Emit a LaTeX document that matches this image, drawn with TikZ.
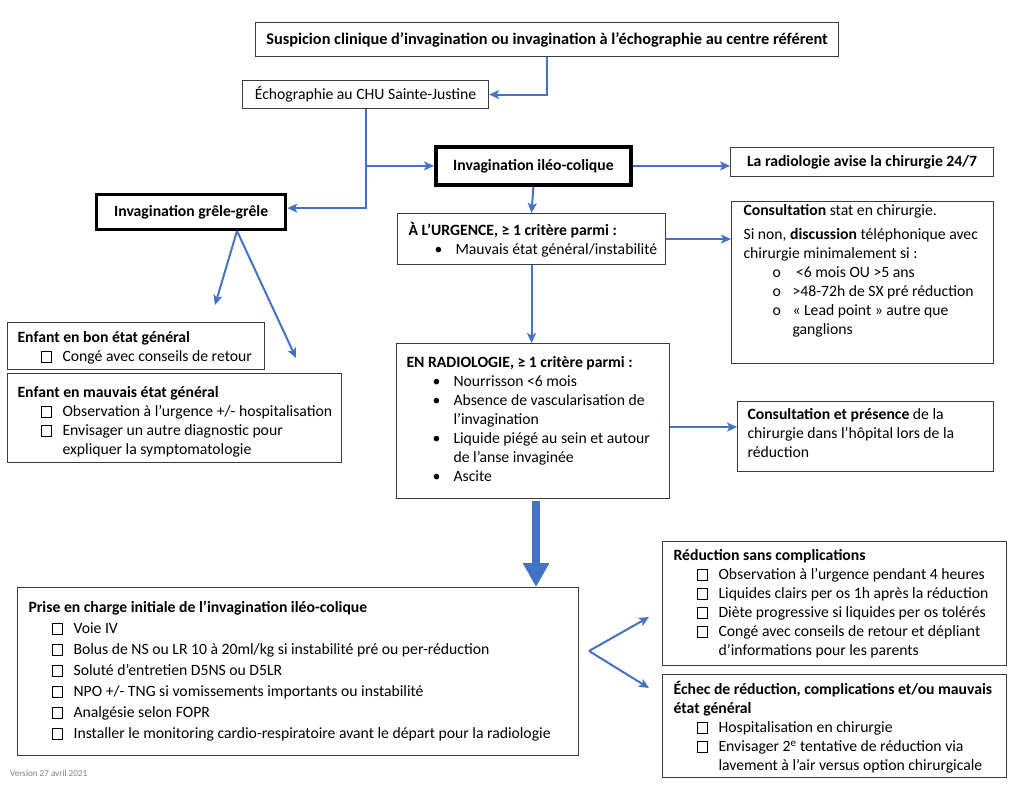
\documentclass[tikz,border=0pt]{standalone}
\usepackage{fontspec}
\setmainfont{Carlito}
\usepackage{xcolor}
\usepackage{tikz}
\usetikzlibrary{arrows.meta,positioning}

\definecolor{flowblue}{HTML}{4472C4}
\definecolor{boxgray}{HTML}{3B3B3B}

% list helpers for the boxes
\newcommand{\cbox}{{\setlength{\fboxsep}{0pt}\setlength{\fboxrule}{0.9pt}\fbox{\rule{0pt}{9.4pt}\hspace{9.4pt}}}}
\newcommand{\chk}[1]{\par\noindent\hangindent=45pt\hangafter=1\hspace*{23pt}\makebox[22pt][l]{\cbox}#1}
\newcommand{\blt}[1]{\par\noindent\hangindent=47pt\hangafter=1\hspace*{26pt}\makebox[21pt][l]{•}#1}
\newcommand{\opt}[1]{\par\noindent\hangindent=49pt\hangafter=1\hspace*{29pt}\makebox[20pt][l]{o}#1}
\newcommand{\btxt}[4]{\parbox[c][#2][t]{#1}{\raggedright\rightskip=-30pt plus 1fil\rule{0pt}{#3}\ignorespaces#4}}

\begin{document}
\begin{tikzpicture}[x=1pt, y=-1pt,
    box/.style={draw=boxgray, line width=1.1pt, anchor=north west, inner xsep=11pt, inner ysep=0pt, font=\fontsize{15.7}{19}\selectfont},
    headbox/.style={draw=boxgray, line width=1.1pt, anchor=north west, inner sep=0pt, font=\bfseries\fontsize{15.7}{19}\selectfont},
    keybox/.style={headbox, draw=black, line width=3.8pt},
    arr/.style={draw=flowblue, line width=2pt, -{Stealth[length=10pt,width=9pt,inset=2.5pt]}},
    bigarr/.style={draw=flowblue, line width=8pt, -{Triangle[length=24pt,width=25pt]}}]

  \useasboundingbox (0,0) rectangle (1024,791);
  \fill[white] (0,0) rectangle (1024,791);

  % top of the chart
  \node[headbox, font=\bfseries\fontsize{16.3}{19}\selectfont, minimum width=583pt, minimum height=34pt] (susp) at (255,22) {Suspicion clinique d’invagination ou invagination à l’échographie au centre référent};
  \node[headbox, font=\fontsize{15.7}{19}\selectfont, minimum width=246pt, minimum height=28pt] (echo) at (242,80) {Échographie au CHU Sainte-Justine};
  \node[keybox, minimum width=195pt, minimum height=38pt] (ileo) at (434,145) {Invagination iléo-colique};
  \node[keybox, line width=3.3pt, minimum width=189pt, minimum height=35pt] (grele) at (95,193) {Invagination grêle-grêle};
  \node[headbox, minimum width=263pt, minimum height=29pt] (avise) at (730,147) {La radiologie avise la chirurgie 24/7};

  % ileo-colique branch
  \node[box] (urg) at (397,213) {\btxt{246pt}{51pt}{22pt}{\textbf{À L’URGENCE, ≥ 1 critère parmi :}\blt{Mauvais état général/instabilité}}};
  \node[box, inner xsep=12pt] (consult) at (731,201) {\btxt{238pt}{162pt}{14pt}{\textbf{Consultation} stat en chirurgie.\par\vspace{5pt}Si non, \textbf{discussion} téléphonique avec\newline chirurgie minimalement si :\opt{\ <6 mois OU >5 ans}\opt{>48-72h de SX pré réduction}\opt{«~Lead point~» autre que\newline ganglions}}};
  \node[box, inner xsep=10pt] (rad) at (396,343) {\btxt{253pt}{155pt}{24pt}{\textbf{EN RADIOLOGIE, ≥ 1 critère parmi :}\blt{Nourrisson <6 mois}\blt{Absence de vascularisation de\newline l’invagination}\blt{Liquide piégé au sein et autour\newline de l’anse invaginée}\blt{Ascite}}};
  \node[box, inner xsep=10pt] (pres) at (737,401) {\btxt{236pt}{70pt}{18pt}{\textbf{Consultation et présence} de la\newline chirurgie dans l’hôpital lors de la\newline réduction}};

  % grele-grele branch
  \node[box, inner xsep=10pt] (bon) at (7,322) {\btxt{237pt}{47pt}{20pt}{\textbf{Enfant en bon état général}\chk{Congé avec conseils de retour}}};
  \node[box, inner xsep=10pt] (mauv) at (7,373) {\btxt{314pt}{89pt}{24pt}{\textbf{Enfant en mauvais état général}\chk{Observation à l’urgence +/- hospitalisation}\chk{Envisager un autre diagnostic pour\newline expliquer la symptomatologie}}};

  % management and outcome
  \node[box, font=\fontsize{15.7}{21}\selectfont] (prise) at (17,587) {\btxt{539pt}{168pt}{25pt}{\textbf{Prise en charge initiale de l’invagination iléo-colique}\chk{Voie IV}\chk{Bolus de NS ou LR 10 à 20ml/kg si instabilité pré ou per-réduction}\chk{Soluté d’entretien D5NS ou D5LR}\chk{NPO +/- TNG si vomissements importants ou instabilité}\chk{Analgésie selon FOPR}\chk{Installer le monitoring cardio-respiratoire avant le départ pour la radiologie}}};
  \node[box] (red) at (662,541) {\btxt{322pt}{124pt}{19pt}{\textbf{Réduction sans complications}\chk{Observation à l’urgence pendant 4 heures}\chk{Liquides clairs per os 1h après la réduction}\chk{Diète progressive si liquides per os tolérés}\chk{Congé avec conseils de retour et dépliant\newline d’informations pour les parents}}};
  \node[box] (ech) at (662,674) {\btxt{322pt}{103pt}{20pt}{\textbf{Échec de réduction, complications et/ou mauvais\newline état général}\chk{Hospitalisation en chirurgie}\chk{Envisager 2\textsuperscript{e} tentative de réduction via\newline lavement à l’air versus option chirurgicale}}};

  \node[anchor=west, inner sep=0pt, text=gray, font=\fontsize{9.1}{11}\selectfont] (version) at (10,773) {Version 27 avril 2021};

  % free ends of the forks
  \coordinate (gfork) at (237,231);
  \coordinate (gleft) at (215,305);
  \coordinate (gright) at (296,358);
  \coordinate (fork) at (589,651);
  \coordinate (redtip) at (649,617);
  \coordinate (echtip) at (649,688);

  \draw[arr] (susp.south) |- (echo.east);
  \draw[arr] (echo.south) |- (ileo.west);
  \draw[arr] (echo.south) |- ([yshift=4pt]grele.east);
  \draw[arr] (ileo.east) -- (ileo.east -| avise.west);
  \draw[arr] (ileo.south) -- (urg.north);
  \draw[arr] (urg.east) -- (urg.east -| consult.west);
  \draw[arr] (urg.south) -- (urg.south |- rad.north);
  \draw[arr] ([yshift=-6pt]rad.east) -- ([yshift=-6pt]rad.east -| pres.west);
  \draw[bigarr] ([xshift=3pt,yshift=-2pt]rad.south) -- ([xshift=3pt]rad.south |- prise.north);
  \draw[arr] (gfork) -- (gleft);
  \draw[arr] (gfork) -- (gright);
  \draw[arr] (fork) -- (redtip);
  \draw[arr] (fork) -- (echtip);
\end{tikzpicture}
\end{document}
